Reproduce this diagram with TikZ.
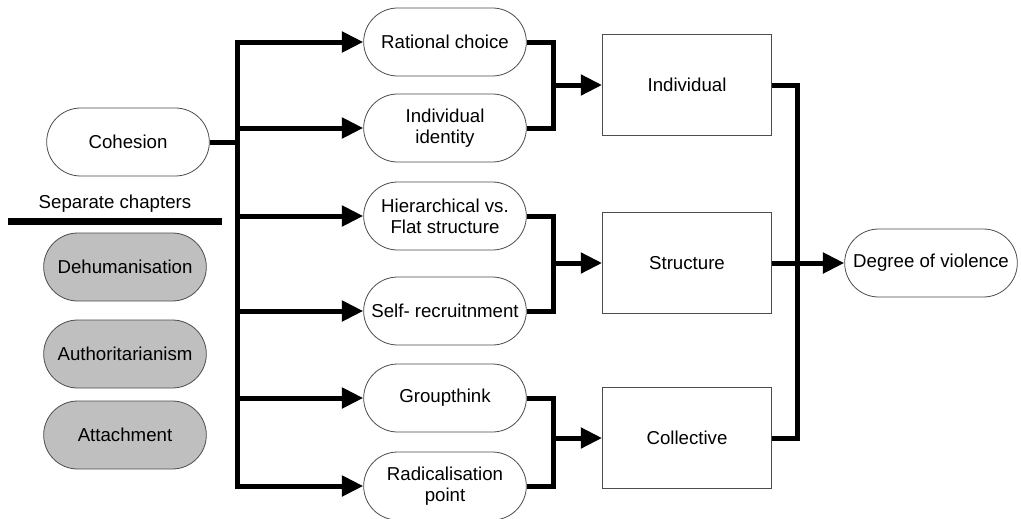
\documentclass[tikz,border=0pt]{standalone}
\usepackage{fontspec}
\setmainfont{Liberation Sans}
\usetikzlibrary{positioning}
\usetikzlibrary{calc}
\usetikzlibrary{arrows.meta}
\usetikzlibrary{shapes.misc}
\newcommand{\inkcolor}{black}
\newcommand{\papercolor}{white}
\colorlet{borderline}{\inkcolor!70!\papercolor}
\colorlet{chapterfill}{\papercolor!75!\inkcolor}
\tikzstyle{factormodule}=[\inkcolor, align=center, solid, rounded rectangle, draw=borderline, line width=0.6pt, minimum width=126pt, minimum height=51pt, inner sep=2pt, fill=\papercolor, font=\fontsize{14}{16}\selectfont]
\tikzstyle{chaptermodule}=[factormodule, fill=chapterfill]
\tikzstyle{levelmodule}=[\inkcolor, align=center, solid, rectangle, draw=borderline, line width=0.6pt, minimum width=126.75pt, minimum height=76pt, fill=\papercolor, font=\fontsize{14}{16}\selectfont]
\tikzstyle{link}=[\inkcolor, line width=3.75pt]
\tikzstyle{arrowlink}=[link, -{Triangle[length=16pt, width=15pt]}]

\begin{document}
\begin{tikzpicture}[x=0.75pt, y=-0.75pt]
    \useasboundingbox (0, 0) rectangle (1021, 518);

    % left column
    \node[factormodule] at (128, 142) (cohesion) {Cohesion};
    \node[\inkcolor, font=\fontsize{14}{16}\selectfont] at (115, 204) (chapters) {Separate chapters};
    \draw[\inkcolor, line width=5.25pt] (8, 221) -- (222, 221);
    \node[chaptermodule] at (125, 267) (dehumanisation) {Dehumanisation};
    \node[chaptermodule] at (125, 354) (authoritarianism) {Authoritarianism};
    \node[chaptermodule] at (125, 435) (attachment) {Attachment};

    % middle column
    \node[factormodule] at (445, 42) (rational) {Rational choice};
    \node[factormodule] at (445, 128) (identity) {Individual\\identity};
    \node[factormodule] at (445, 216) (hierarchy) {Hierarchical vs.\\Flat structure};
    \node[factormodule] at (445, 311) (recruitment) {Self- recruitnment};
    \node[factormodule] at (445, 398) (groupthink) {Groupthink};
    \node[factormodule] at (445, 486) (radicalisation) {Radicalisation\\point};

    % levels
    \node[levelmodule] at (687, 85) (individual) {Individual};
    \node[levelmodule] at (687, 263) (structure) {Structure};
    \node[levelmodule] at (687, 438) (collective) {Collective};

    \node[factormodule, minimum width=133.5pt] at (931, 263) (violence) {Degree of violence};

    \coordinate (fork) at (237, 142);
    \coordinate (mergeIndividual) at (553, 85);
    \coordinate (mergeStructure) at (553, 263);
    \coordinate (mergeCollective) at (553, 438);
    \coordinate (join) at (797, 263);

    % Arrows
    \draw[link] (cohesion.east) -- ($(fork) + (3, 0)$);
    \draw[arrowlink] (fork) |- (rational.west);
    \draw[arrowlink] (fork) |- (identity.west);
    \draw[arrowlink] (fork) |- (hierarchy.west);
    \draw[arrowlink] (fork) |- (recruitment.west);
    \draw[arrowlink] (fork) |- (groupthink.west);
    \draw[arrowlink] (fork) |- (radicalisation.west);

    \draw[link] (rational.east) -| (mergeIndividual);
    \draw[link] (identity.east) -| (mergeIndividual);
    \draw[arrowlink] (mergeIndividual) -- (individual.west);

    \draw[link] (hierarchy.east) -| (mergeStructure);
    \draw[link] (recruitment.east) -| (mergeStructure);
    \draw[arrowlink] (mergeStructure) -- (structure.west);

    \draw[link] (groupthink.east) -| (mergeCollective);
    \draw[link] (radicalisation.east) -| (mergeCollective);
    \draw[arrowlink] (mergeCollective) -- (collective.west);

    \draw[link] (individual.east) -| (join);
    \draw[link] (collective.east) -| (join);
    \draw[link] (structure.east) -- (join);
    \draw[arrowlink] (join) -- (violence.west);

\end{tikzpicture}
\end{document}
